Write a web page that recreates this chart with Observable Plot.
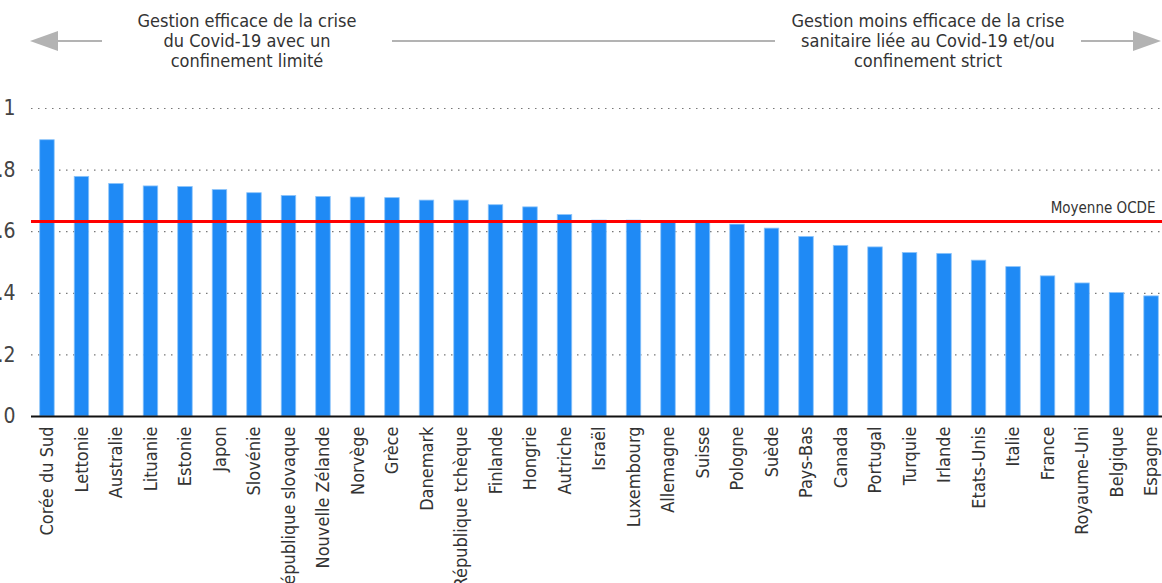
<!DOCTYPE html>
<html>
<head>
<meta charset="utf-8">
<script src="https://cdn.jsdelivr.net/npm/d3@7"></script>
<script src="https://cdn.jsdelivr.net/npm/@observablehq/plot@0.6"></script>
<style>
  html, body { margin: 0; padding: 0; background: #fff; }
  body { width: 1162px; height: 583px; overflow: hidden; font-family: "Liberation Sans Narrow", "DejaVu Sans Condensed", "Roboto", sans-serif; font-stretch: condensed; color: #333; }
  #header { position: relative; width: 1162px; height: 90px; }
  .note { position: absolute; top: 11px; text-align: center; font-size: 18px; line-height: 20px; color: #333; white-space: nowrap; }
  #chart svg { display: block; }
</style>
</head>
<body>
<div id="header">
  <svg width="1162" height="90" style="position:absolute;left:0;top:0">
    <line x1="48" y1="41" x2="102" y2="41" stroke="#b3b3b3" stroke-width="2"/>
    <polygon points="30,41 58,31 58,51" fill="#b3b3b3"/>
    <line x1="392" y1="41" x2="775" y2="41" stroke="#b3b3b3" stroke-width="2"/>
    <line x1="1081" y1="41" x2="1140" y2="41" stroke="#b3b3b3" stroke-width="2"/>
    <polygon points="1161,41 1133,31 1133,51" fill="#b3b3b3"/>
  </svg>
  <div class="note" style="left:127px;width:240px">Gestion efficace de la crise<br>du Covid-19 avec un<br>confinement limité</div>
  <div class="note" style="left:778px;width:300px">Gestion moins efficace de la crise<br>sanitaire liée au Covid-19 et/ou<br>confinement strict</div>
</div>
<div id="chart"></div>
<script>
const countries = ["Corée du Sud","Lettonie","Australie","Lituanie","Estonie","Japon","Slovénie","République slovaque","Nouvelle Zélande","Norvège","Grèce","Danemark","République tchèque","Finlande","Hongrie","Autriche","Israël","Luxembourg","Allemagne","Suisse","Pologne","Suède","Pays-Bas","Canada","Portugal","Turquie","Irlande","Etats-Unis","Italie","France","Royaume-Uni","Belgique","Espagne"];
const values = [0.897,0.778,0.755,0.747,0.745,0.735,0.725,0.716,0.713,0.711,0.709,0.701,0.701,0.686,0.679,0.654,0.636,0.636,0.631,0.628,0.623,0.610,0.583,0.554,0.549,0.531,0.528,0.506,0.485,0.455,0.432,0.401,0.390];
const oecdMean = 0.633;
const oecdLabel = "Moyenne OCDE";
const yTicks = [0, 0.2, 0.4, 0.6, 0.8, 1];

const data = countries.map((c, i) => ({country: c, value: values[i]}));
const fmt = d => String(d);

const chart = Plot.plot({
  width: 1162,
  height: 493,
  marginLeft: 31,
  marginRight: 0,
  marginTop: 18,
  marginBottom: 167,
  style: {fontFamily: '"Liberation Sans Narrow", "DejaVu Sans Condensed", Roboto, sans-serif', color: "#333", background: "#fff"},
  x: {type: "band", domain: countries, range: [33.5, 1164.5], paddingInner: 0.58, paddingOuter: 0.18, round: false, label: null},
  y: {domain: [0, 1], label: null},
  marks: [
    Plot.gridY(yTicks, {stroke: "#777", strokeOpacity: 1, strokeWidth: 1.2, strokeDasharray: "1.5,5.5"}),
    Plot.barY(data, {x: "country", y: "value", fill: "#1f8af5", stroke: "#8cc4fa", strokeWidth: 0.8}),
    Plot.ruleY([0], {stroke: "#111", strokeWidth: 2}),
    Plot.ruleY([oecdMean], {stroke: "#ff0000", strokeWidth: 3}),
    Plot.text([oecdLabel], {x: () => countries[countries.length - 1], y: oecdMean, text: d => d, textAnchor: "end", dx: 4, dy: -13, fontSize: 15, fill: "#333"}),
    Plot.axisY(yTicks, {tickSize: 0, tickPadding: 16, fontSize: 21, tickFormat: fmt, label: null, fill: "#444"}),
    Plot.axisX({tickSize: 0, tickPadding: 10, tickRotate: -90, fontSize: 18, label: null, fill: "#333"})
  ]
});
document.getElementById("chart").appendChild(chart);
</script>
</body>
</html>
